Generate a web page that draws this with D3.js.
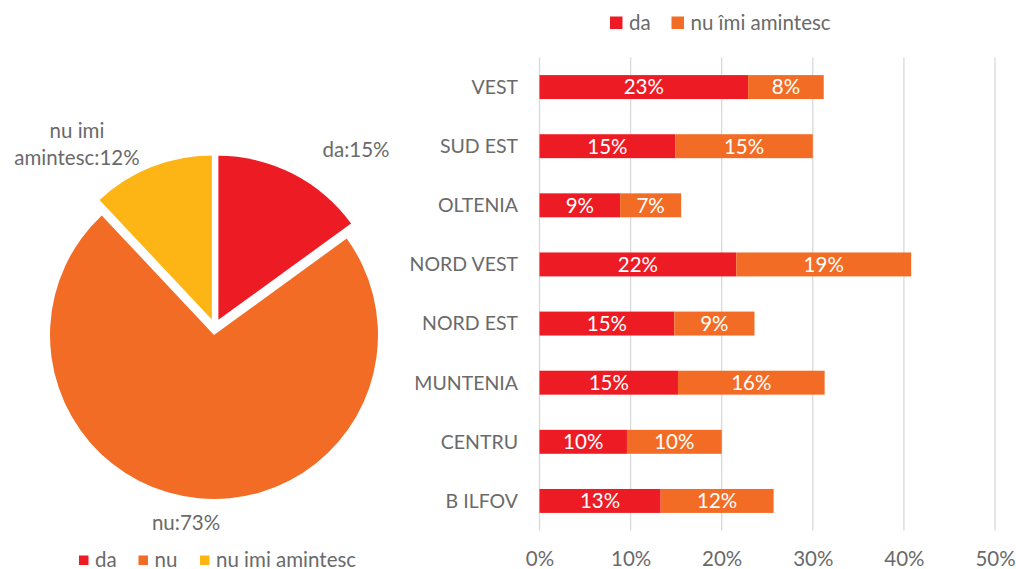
<!DOCTYPE html>
<html><head><meta charset="utf-8">
<script src="https://cdn.jsdelivr.net/npm/d3@7/dist/d3.min.js"></script>
<style>
html,body{margin:0;padding:0;background:#fff;}
text{font-family:Lato,"Open Sans",sans-serif;}
</style></head>
<body>
<svg id="c" width="1016" height="569"></svg>
<script>
// Pie data
const pieLabels = ["da", "nu", "nu imi amintesc"];
const pieValues = [15, 73, 12];
const pieColors = ["#ED1C24", "#F36C25", "#FDB515"];

// Bar data (top to bottom)
const regions = ["VEST", "SUD EST", "OLTENIA", "NORD VEST", "NORD EST", "MUNTENIA", "CENTRU", "B ILFOV"];
const daValues = [22.9, 14.9, 8.85, 21.6, 14.8, 15.2, 9.6, 13.3];
const nuImiValues = [8.3, 15.1, 6.7, 19.2, 8.8, 16.1, 10.4, 12.4];
const xTicks = [0, 10, 20, 30, 40, 50];
const barSeries = ["da", "nu îmi amintesc"];
const barColors = ["#ED1C24", "#F36C25"];

const svg = d3.select("#c");
const gray = "#6a6a6a";
const FS = 20.5;

// ---------- PIE ----------
const cx = 214.75, cy = 327, R = 164, explode = 8;
const pie = d3.pie().sort(null).value(d => d)(pieValues);
const arc = d3.arc().innerRadius(0).outerRadius(R);
const pg = svg.append("g").attr("transform", `translate(${cx},${cy})`);
pg.selectAll("path").data(pie).enter().append("path")
  .attr("d", arc)
  .attr("fill", (d, i) => pieColors[i])
  .attr("transform", d => {
    const a = (d.startAngle + d.endAngle) / 2;
    return `translate(${explode * Math.sin(a)},${-explode * Math.cos(a)})`;
  });

// pie labels
const pl = svg.append("g").attr("fill", gray).style("font-size", FS + "px");
pl.append("text").attr("x", 356).attr("y", 157).attr("text-anchor", "middle")
  .text(pieLabels[0] + ":" + pieValues[0] + "%");
pl.append("text").attr("x", 186).attr("y", 530).attr("text-anchor", "middle")
  .text(pieLabels[1] + ":" + pieValues[1] + "%");
const t3 = pl.append("text").attr("text-anchor", "middle");
t3.append("tspan").attr("x", 77).attr("y", 138).text("nu imi");
t3.append("tspan").attr("x", 77).attr("y", 165).text("amintesc:" + pieValues[2] + "%");

// pie legend
const pleg = svg.append("g").style("font-size", FS + "px");
const plegX = [79, 138.5, 200];
pieLabels.forEach((l, i) => {
  pleg.append("rect").attr("x", plegX[i]).attr("y", 555.5).attr("width", 9.5).attr("height", 9.5).attr("fill", pieColors[i]);
  pleg.append("text").attr("x", plegX[i] + 16).attr("y", 566.5).attr("fill", gray).text(l);
});

// ---------- BAR ----------
const x = d3.scaleLinear().domain([0, 50]).range([539.5, 995]);
const y = d3.scaleBand().domain(regions).range([57.5, 530.5]).paddingInner(0.595).paddingOuter(0.2975);

// gridlines
svg.append("g").selectAll("line").data(xTicks).enter().append("line")
  .attr("x1", d => x(d)).attr("x2", d => x(d))
  .attr("y1", 57.5).attr("y2", 530.5)
  .attr("stroke", "#d9d9d9").attr("stroke-width", 1.3);

// x axis labels
const xa = svg.append("g").attr("transform", "translate(0,566)")
  .call(d3.axisBottom(x).tickValues(xTicks).tickFormat(d => d + "%").tickSize(0).tickPadding(0));
xa.select(".domain").remove();
xa.selectAll("text").attr("fill", gray).style("font-size", FS + "px").attr("dy", 0).attr("y", 0);

// y axis labels
const ya = svg.append("g").attr("transform", "translate(518,0)")
  .call(d3.axisLeft(y).tickSize(0).tickPadding(0));
ya.select(".domain").remove();
ya.selectAll("text").attr("fill", gray).style("font-size", "19.5px").attr("dy", "0.35em");

// stacked bars
const rows = regions.map((r, i) => ({ r, da: daValues[i], nu: nuImiValues[i] }));
const bg = svg.append("g");
rows.forEach(d => {
  const segs = [[0, d.da, 0], [d.da, d.da + d.nu, 1]];
  segs.forEach(([a, b, k]) => {
    bg.append("rect")
      .attr("x", x(a)).attr("width", x(b) - x(a))
      .attr("y", y(d.r)).attr("height", y.bandwidth())
      .attr("fill", barColors[k]);
    bg.append("text")
      .attr("x", (x(a) + x(b)) / 2).attr("y", y(d.r) + y.bandwidth() / 2)
      .attr("dy", "0.36em").attr("text-anchor", "middle")
      .attr("fill", "#ffffff").style("font-size", FS + "px")
      .text(Math.round(b - a) + "%");
  });
});

// bar legend
const bleg = svg.append("g").style("font-size", FS + "px");
const blegX = [610, 671.5];
barSeries.forEach((l, i) => {
  bleg.append("rect").attr("x", blegX[i]).attr("y", 16.5).attr("width", 12.5).attr("height", 12.5).attr("fill", barColors[i]);
  bleg.append("text").attr("x", blegX[i] + 19).attr("y", 29.5).attr("fill", gray).text(l);
});
</script>
</body></html>
